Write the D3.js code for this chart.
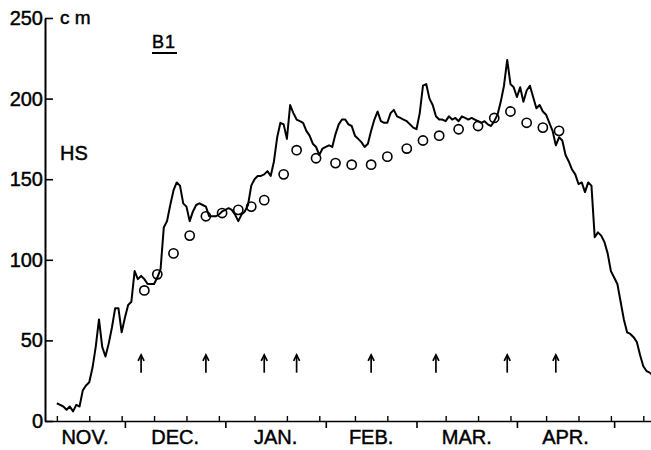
<!DOCTYPE html>
<html><head><meta charset="utf-8">
<script src="https://cdn.jsdelivr.net/npm/d3@7"></script>
<style>
body{margin:0;background:#fff}
svg{display:block}
text{font-family:"Liberation Sans",Arial,Helvetica,sans-serif;fill:#000;stroke:#000;stroke-width:0.45px}
</style>
</head><body>
<svg id="chart" width="651" height="450"></svg>
<script>
// ---- data ----
const hsStart = "1980-11-10";           // first day of the daily snow-height record
const hsDaily = [
  11,10,9,7,9,6,10,9,19,22,
  24,33,46,63,46,40,48,58,70,70,
  55,64,72,74,93,88,90,88,85,85,
  85,89,94,120,124,134,143,148,146,135,
  133,124,130,134,135,134,133,127,127,127,
  128,130,131,132,131,128,124,128,130,
  134,146,150,152,152,153,155,152,161,176,
  185,184,175,196,191,187,186,185,180,177,
  172,170,165,169,170,171,170,178,184,187,
  187,184,183,177,175,173,170,172,180,187,
  192,186,185,185,191,193,189,188,187,186,
  184,182,181,191,208,209,200,196,189,187,
  187,186,189,187,188,186,189,188,187,188,
  187,186,185,186,184,183,186,190,198,208,
  224,209,207,201,207,198,205,208,201,194,
  196,192,190,185,180,171,176,174,165,161,
  156,153,147,148,142,148,146,114,117,115,
  111,104,93,89,85,74,63,55,54,52,
  49,41,34,31,30,28
];
const profileDates = [
  "1980-12-07","1980-12-11","1980-12-16","1980-12-21","1980-12-26","1980-12-31",
  "1981-01-05","1981-01-09","1981-01-13","1981-01-19","1981-01-23","1981-01-29",
  "1981-02-04","1981-02-09","1981-02-15","1981-02-20","1981-02-26",
  "1981-03-03","1981-03-08","1981-03-14","1981-03-20","1981-03-25","1981-03-30",
  "1981-04-04","1981-04-09","1981-04-14"
];
const profileHS = [
  81,91,104,115,127,129,131,133,137,153,168,163,
  160,159,159,164,169,174,177,181,183,188,192,
  185,182,180
];
const pitDates = ["1980-12-06","1980-12-26","1981-01-13","1981-01-23","1981-02-15","1981-03-07","1981-03-29","1981-04-13"];
const yTicks = [0,50,100,150,200,250];
const monthStarts = ["1980-11-01","1980-12-01","1981-01-01","1981-02-01","1981-03-01","1981-04-01","1981-05-01","1981-06-01"];
const monthLabels = ["NOV.","DEC.","JAN.","FEB.","MAR.","APR."];
const dekadDays = [10,20,30];

// ---- scales ----
const parse = d3.utcParse("%Y-%m-%d");
const svg = d3.select("#chart");
const mLeft = 45, mRight = 651, mTop = 18, mBottom = 421;
const x0 = d3.scaleUtc().domain([parse("1980-11-01"), parse("1981-05-01")]).range([27.7, 27.7 + 3.24 * 181]);
const x = d3.scaleUtc().domain([x0.invert(mLeft), x0.invert(mRight)]).range([mLeft, mRight]);
const y = d3.scaleLinear().domain([0, 250]).range([mBottom, mTop]);

// ---- axes ----
const yAxis = svg.append("g").attr("transform", `translate(${mLeft},0)`)
  .call(d3.axisLeft(y).tickValues(yTicks).tickSizeInner(-8).tickSizeOuter(0).tickPadding(2));
yAxis.select(".domain").attr("stroke-width", 2);
yAxis.selectAll(".tick line").attr("stroke-width", 1.6);
yAxis.selectAll("text").attr("font-size", 20).attr("fill", "#000");

const [d0, d1] = x.domain();
const mStarts = monthStarts.map(parse).filter(d => d >= d0 && d <= d1);
const xAxis = svg.append("g").attr("transform", `translate(0,${mBottom})`)
  .call(d3.axisBottom(x).tickValues(mStarts).tickSizeInner(7).tickSizeOuter(0).tickFormat(""));
xAxis.select(".domain").attr("stroke-width", 1.6);
xAxis.selectAll(".tick line").attr("stroke-width", 1.6);

const dekads = [];
monthStarts.map(parse).forEach(m => {
  dekadDays.forEach(dd => {
    const t = new Date(Date.UTC(m.getUTCFullYear(), m.getUTCMonth(), dd));
    if (t.getUTCMonth() === m.getUTCMonth() && t >= d0 && t <= d1) dekads.push(t);
  });
});
const xAxis2 = svg.append("g").attr("transform", `translate(0,${mBottom})`)
  .call(d3.axisTop(x).tickValues(dekads).tickSizeInner(5).tickSizeOuter(0).tickFormat(""));
xAxis2.select(".domain").remove();
xAxis2.selectAll(".tick line").attr("stroke-width", 1.4);

// month labels centred in the visible part of each month
const allStarts = monthStarts.map(parse);
monthLabels.forEach((lab, i) => {
  const a = new Date(Math.max(allStarts[i], d0)), b = allStarts[i + 1];
  svg.append("text")
    .attr("x", (x(a) + x(b)) / 2).attr("y", 444)
    .attr("text-anchor", "middle").attr("font-size", 20).text(lab);
});

// ---- snow height line ----
const start = parse(hsStart);
const hsData = hsDaily.map((v, i) => ({ date: d3.utcDay.offset(start, i), v }));
svg.append("defs").append("clipPath").attr("id", "clip")
  .append("rect").attr("x", mLeft).attr("y", 0).attr("width", mRight - mLeft + 5).attr("height", mBottom);
svg.append("path").datum(hsData)
  .attr("clip-path", "url(#clip)")
  .attr("fill", "none").attr("stroke", "#000").attr("stroke-width", 2)
  .attr("stroke-linejoin", "round")
  .attr("d", d3.line().x(d => x(d.date)).y(d => y(d.v)));

// ---- profile circles ----
svg.append("g").selectAll("circle")
  .data(profileDates.map((d, i) => ({ date: parse(d), v: profileHS[i] })))
  .join("circle")
  .attr("cx", d => x(d.date)).attr("cy", d => y(d.v)).attr("r", 4.6)
  .attr("fill", "none").attr("stroke", "#000").attr("stroke-width", 1.6);

// ---- arrows ----
const ag = svg.append("g").attr("stroke", "#000").attr("fill", "none").attr("stroke-width", 1.7);
pitDates.map(parse).forEach(d => {
  const px = x(d), yt = y(41), yb = y(30);
  ag.append("line").attr("x1", px).attr("x2", px).attr("y1", yt).attr("y2", yb);
  ag.append("path").attr("d", `M${px - 3},${yt + 6}L${px},${yt}L${px + 3},${yt + 6}`);
});

// ---- annotations ----
svg.append("text").attr("x", 60).attr("y", 24).attr("font-size", 19).text("c m");
svg.append("text").attr("x", 152).attr("y", 48).attr("font-size", 18).attr("letter-spacing", 1).text("B1");
svg.append("line").attr("x1", 152).attr("x2", 177).attr("y1", 53).attr("y2", 53).attr("stroke", "#000").attr("stroke-width", 2);
svg.append("text").attr("x", 60).attr("y", 160).attr("font-size", 20).text("HS");
</script>
</body></html>
